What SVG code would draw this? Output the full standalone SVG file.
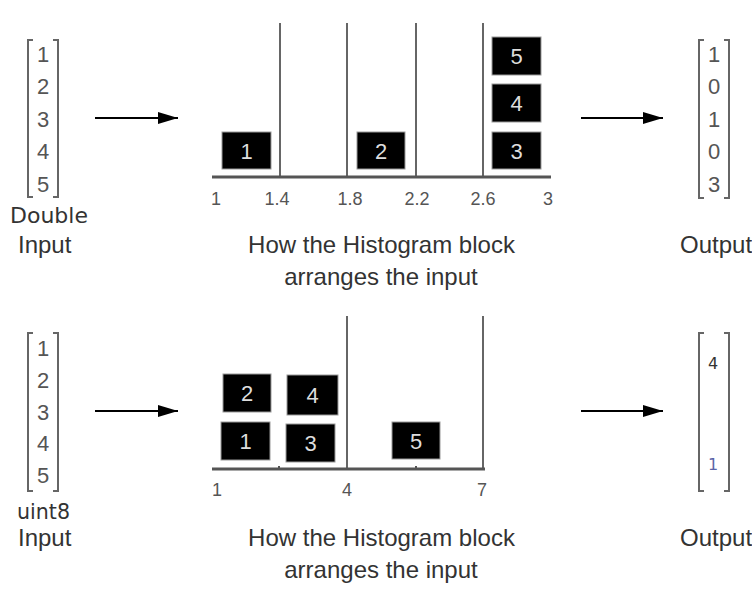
<svg xmlns="http://www.w3.org/2000/svg" width="752" height="591" viewBox="0 0 752 591">
<style>
.t{font-family:"Liberation Sans",Arial,sans-serif;fill:#333;}
.lbl{font-size:24px;}
.dig{font-size:22px;fill:#555;text-anchor:middle;}
.ax{font-size:18px;fill:#555;text-anchor:middle;}
.bx{fill:#000;stroke:#999;stroke-width:1;}
.bt{font-family:"Liberation Sans",Arial,sans-serif;font-size:22px;fill:#ddd;text-anchor:middle;}
.br{fill:none;stroke:#666;stroke-width:2;}
.vl{stroke:#666;stroke-width:2;}
.bl{stroke:#555;stroke-width:3;}
.arr{stroke:#000;stroke-width:2;fill:none;marker-end:url(#ah);}
.dj{font-family:"DejaVu Sans",Verdana,sans-serif;fill:#333;}
</style>
<defs>
<marker id="ah" markerUnits="userSpaceOnUse" markerWidth="20" markerHeight="12" refX="20" refY="6" orient="auto">
<path d="M0,0 L20,6 L0,12 Z" fill="#000"/>
</marker>
</defs>
<rect width="752" height="591" fill="#fff"/>

<g id="connectors">
<line class="arr" x1="95" y1="118" x2="178" y2="118"/>
<line class="arr" x1="581" y1="118" x2="663" y2="118"/>
<line class="arr" x1="95" y1="411" x2="178" y2="411"/>
<line class="arr" x1="581" y1="411" x2="663" y2="411"/>
</g>

<g id="input-double">
<path class="br" d="M33,40 H28 V197 H33"/>
<path class="br" d="M53,40 H58 V197 H53"/>
<text class="t dig" x="43" y="61.5">1</text>
<text class="t dig" x="43" y="94">2</text>
<text class="t dig" x="43" y="126.5">3</text>
<text class="t dig" x="43" y="159">4</text>
<text class="t dig" x="43" y="191.5">5</text>
<text class="dj" x="10" y="223" font-size="21" textLength="78" lengthAdjust="spacingAndGlyphs">Double</text>
<text class="t lbl" x="18" y="253">Input</text>
</g>

<g id="histogram-double">
<line class="vl" x1="280" y1="23" x2="280" y2="177"/>
<line class="vl" x1="347" y1="23" x2="347" y2="177"/>
<line class="vl" x1="416" y1="23" x2="416" y2="177"/>
<line class="vl" x1="483" y1="23" x2="483" y2="177"/>
<line class="bl" x1="212" y1="177" x2="551" y2="177"/>
<rect class="bx" x="222" y="132" width="49" height="37"/>
<rect class="bx" x="357" y="132" width="48" height="37"/>
<rect class="bx" x="492" y="132" width="49" height="37"/>
<rect class="bx" x="492" y="84" width="49" height="38"/>
<rect class="bx" x="492" y="37" width="49" height="38"/>
<text class="bt" x="246.5" y="158.5">1</text>
<text class="bt" x="381" y="158.5">2</text>
<text class="bt" x="516.5" y="158.5">3</text>
<text class="bt" x="516.5" y="111">4</text>
<text class="bt" x="516.5" y="64">5</text>
<text class="t ax" x="216" y="205">1</text>
<text class="t ax" x="277" y="205">1.4</text>
<text class="t ax" x="350" y="205">1.8</text>
<text class="t ax" x="417" y="205">2.2</text>
<text class="t ax" x="483" y="205">2.6</text>
<text class="t ax" x="548" y="205">3</text>
<text class="t lbl" x="381.5" y="253" text-anchor="middle">How the Histogram block</text>
<text class="t lbl" x="381" y="285" text-anchor="middle">arranges the input</text>
</g>

<g id="output-double">
<path class="br" d="M704,40 H699 V198 H704"/>
<path class="br" d="M724,40 H729 V198 H724"/>
<text class="t dig" x="714" y="61.5">1</text>
<text class="t dig" x="714" y="94">0</text>
<text class="t dig" x="714" y="126.5">1</text>
<text class="t dig" x="714" y="159">0</text>
<text class="t dig" x="714" y="191.5">3</text>
<text class="t lbl" x="680" y="253">Output</text>
</g>

<g id="input-uint8">
<path class="br" d="M33,333 H28 V491 H33"/>
<path class="br" d="M53,333 H58 V491 H53"/>
<text class="t dig" x="43" y="356">1</text>
<text class="t dig" x="43" y="388">2</text>
<text class="t dig" x="43" y="420">3</text>
<text class="t dig" x="43" y="451">4</text>
<text class="t dig" x="43" y="483">5</text>
<text class="dj" x="17" y="519" font-size="21" textLength="53" lengthAdjust="spacingAndGlyphs">uint8</text>
<text class="t lbl" x="18" y="546">Input</text>
</g>

<g id="histogram-uint8">
<line class="vl" x1="347" y1="316" x2="347" y2="469"/>
<line class="vl" x1="483" y1="316" x2="483" y2="469"/>
<line class="bl" x1="212" y1="469" x2="485" y2="469"/>
<line stroke="#555" stroke-width="2" x1="279" y1="466" x2="279" y2="469"/>
<line stroke="#555" stroke-width="2" x1="416" y1="466" x2="416" y2="469"/>
<rect class="bx" x="223" y="374" width="48" height="38"/>
<rect class="bx" x="287" y="375" width="51" height="40"/>
<rect class="bx" x="221" y="422" width="49" height="38"/>
<rect class="bx" x="286" y="424" width="49" height="38"/>
<rect class="bx" x="392" y="422" width="48" height="37"/>
<text class="bt" x="247" y="401">2</text>
<text class="bt" x="312.5" y="403">4</text>
<text class="bt" x="245.5" y="449">1</text>
<text class="bt" x="310.5" y="451">3</text>
<text class="bt" x="416" y="448.5">5</text>
<text class="t ax" x="217" y="496">1</text>
<text class="t ax" x="347" y="496">4</text>
<text class="t ax" x="482" y="496">7</text>
<text class="t lbl" x="381.5" y="546" text-anchor="middle">How the Histogram block</text>
<text class="t lbl" x="381" y="578" text-anchor="middle">arranges the input</text>
</g>

<g id="output-uint8">
<path class="br" d="M704,333 H699 V491 H704"/>
<path class="br" d="M724,333 H729 V491 H724"/>
<text class="dj" x="713" y="369" font-size="16" text-anchor="middle" fill="#4a3a3a">4</text>
<text class="dj" x="713" y="470" font-size="16" text-anchor="middle" style="fill:#5a64a8">1</text>
<text class="t lbl" x="680" y="546">Output</text>
</g>
</svg>
